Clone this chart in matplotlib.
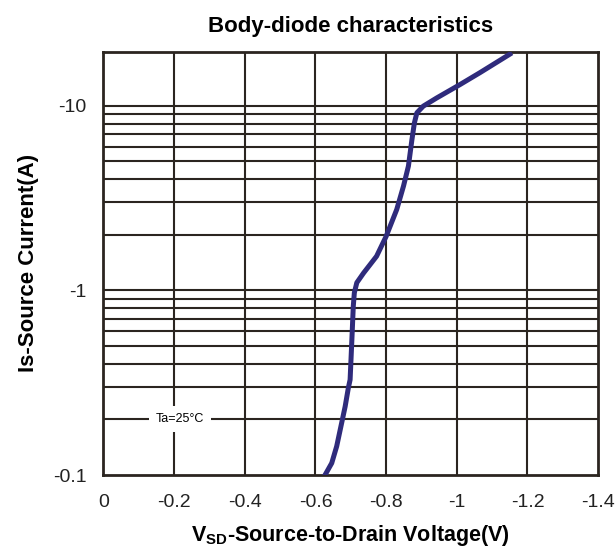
import matplotlib.pyplot as plt
from matplotlib.ticker import FixedLocator, FixedFormatter

plt.rcParams["font.family"] = ["Liberation Sans", "DejaVu Sans"]
plt.rcParams["mathtext.default"] = "regular"

# curve: VSD (V) and |Is| (A)
vsd = [-0.620, -0.627, -0.646, -0.660, -0.674, -0.684, -0.693, -0.698,
       -0.703, -0.707, -0.710, -0.717, -0.736, -0.773, -0.800, -0.830,
       -0.849, -0.863, -0.873, -0.880, -0.887, -0.905, -0.943, -1.009,
       -1.066, -1.156]
i_s = [0.094, 0.1, 0.116, 0.143, 0.191, 0.235, 0.296, 0.328,
       0.54, 0.82, 0.97, 1.10, 1.24, 1.53, 1.96, 2.74,
       3.66, 4.70, 6.55, 8.07, 9.14, 9.93, 11.0, 13.0,
       15.1, 19.3]

x_ticks = [0, -0.2, -0.4, -0.6, -0.8, -1.0, -1.2, -1.4]
x_labels = ["0", "-0.2", "-0.4", "-0.6", "-0.8", "-1", "-1.2", "-1.4"]
y_ticks = [0.1, 1, 10]
y_labels = ["-0.1", "-1", "-10"]
y_grid = [k * 0.1 for k in range(2, 10)] + list(range(1, 11))

grid_col = "#2b2520"
line_col = "#2f2b7c"

fig = plt.figure(figsize=(6.16, 5.47), dpi=100)
ax = fig.add_axes([0.168, 0.1316, 0.803, 0.774])

for y in y_grid:
    ax.axhline(y, color=grid_col, lw=1.5, zorder=1)
for x in x_ticks[1:-1]:
    ax.axvline(x, color=grid_col, lw=1.5, zorder=1)

ax.plot(vsd, i_s, color=line_col, lw=3.6, solid_joinstyle="round",
        solid_capstyle="butt", zorder=3)

ax.set_yscale("log")
ax.set_xlim(0, -1.4)
ax.set_ylim(0.1, 19.6)
ax.xaxis.set_major_locator(FixedLocator(x_ticks))
ax.xaxis.set_major_formatter(FixedFormatter(x_labels))
ax.yaxis.set_major_locator(FixedLocator(y_ticks))
ax.yaxis.set_major_formatter(FixedFormatter(y_labels))
ax.yaxis.set_minor_locator(FixedLocator([]))
ax.tick_params(length=0, labelsize=14, colors="#222222")
ax.tick_params(axis="x", pad=14)
ax.tick_params(axis="y", pad=12)
for s in ax.spines.values():
    s.set_color(grid_col)
    s.set_linewidth(2.0)

# label sits on the 0.2 A line with a white gap round it
ax.text(-0.217, 0.2, "Ta=25°C", fontsize=9, ha="center", va="center",
        bbox=dict(facecolor="white", edgecolor="none", pad=5), zorder=4)

ax.set_title("Body-diode characteristics", fontsize=16, fontweight="bold", pad=14)
ax.set_xlabel("V$_{SD}$-Source-to-Drain Voltage(V)", fontsize=15.5, fontweight="bold", labelpad=8)
ax.set_ylabel("Is-Source Current(A)", fontsize=16, fontweight="bold", labelpad=10)

fig.savefig("out.png", dpi=100)
